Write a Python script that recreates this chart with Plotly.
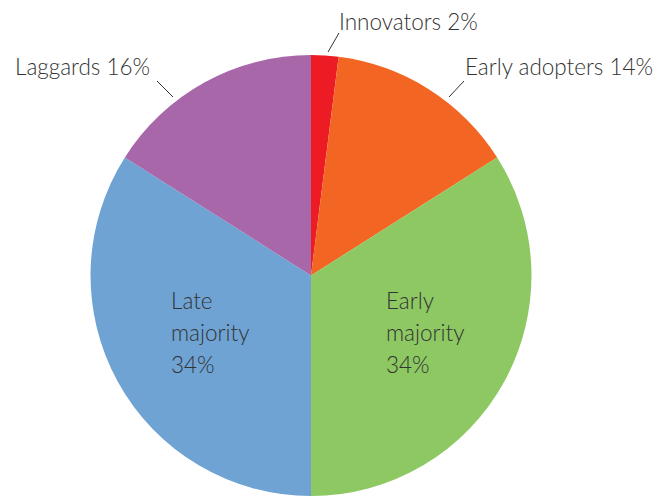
import plotly.graph_objects as go

W, H = 656, 496

labels = ["Innovators", "Early adopters", "Early majority", "Late majority", "Laggards"]
values = [2, 14, 34, 34, 16]
colors = ["#ED1C24", "#F26522", "#8DC863", "#6FA3D4", "#A767A9"]

FONT = "Lato"
TXT = "#333333"
FS = 22.5

def px(x, y):
    return x / W, 1 - y / H

fig = go.Figure(go.Pie(
    labels=labels, values=values, sort=False, direction="clockwise", rotation=0,
    marker=dict(colors=colors, line=dict(width=0)),
    textinfo="none", hoverinfo="label+percent", showlegend=False,
    domain=dict(x=[(311 - 221) / W, (311 + 221) / W], y=[0, 0.889]),
))

annotations = []
def ann(text, x, y):
    ax, ay = px(x, y)
    annotations.append(dict(text=text, x=ax, y=ay, xref="paper", yref="paper",
                            xanchor="left", yanchor="middle", showarrow=False,
                            font=dict(family=FONT, size=FS, color=TXT, weight=300)))

ann(f"{labels[0]} {values[0]}%", 337, 21)
ann(f"{labels[1]} {values[1]}%", 463, 67)
ann(f"{labels[4]} {values[4]}%", 13, 67)

late_lines = ["Late", "majority", f"{values[3]}%"]
early_lines = ["Early", "majority", f"{values[2]}%"]
for i, t in enumerate(late_lines):
    ann(t, 169, 300 + 32 * i)
for i, t in enumerate(early_lines):
    ann(t, 384, 300 + 32 * i)

shapes = []
for (x0, y0, x1, y1) in [(328, 52, 339, 33), (449, 97, 464, 81), (157, 81, 173, 97)]:
    a0, b0 = px(x0, y0)
    a1, b1 = px(x1, y1)
    shapes.append(dict(type="line", xref="paper", yref="paper", x0=a0, y0=b0, x1=a1, y1=b1,
                       line=dict(color=TXT, width=1)))

fig.update_layout(width=W, height=H, margin=dict(l=0, r=0, t=0, b=0),
                  paper_bgcolor="white", plot_bgcolor="white",
                  annotations=annotations, shapes=shapes)

fig.write_html("out.html", config={"displayModeBar": False},
               post_script="document.body.style.margin='0';document.body.style.overflow='hidden';")
